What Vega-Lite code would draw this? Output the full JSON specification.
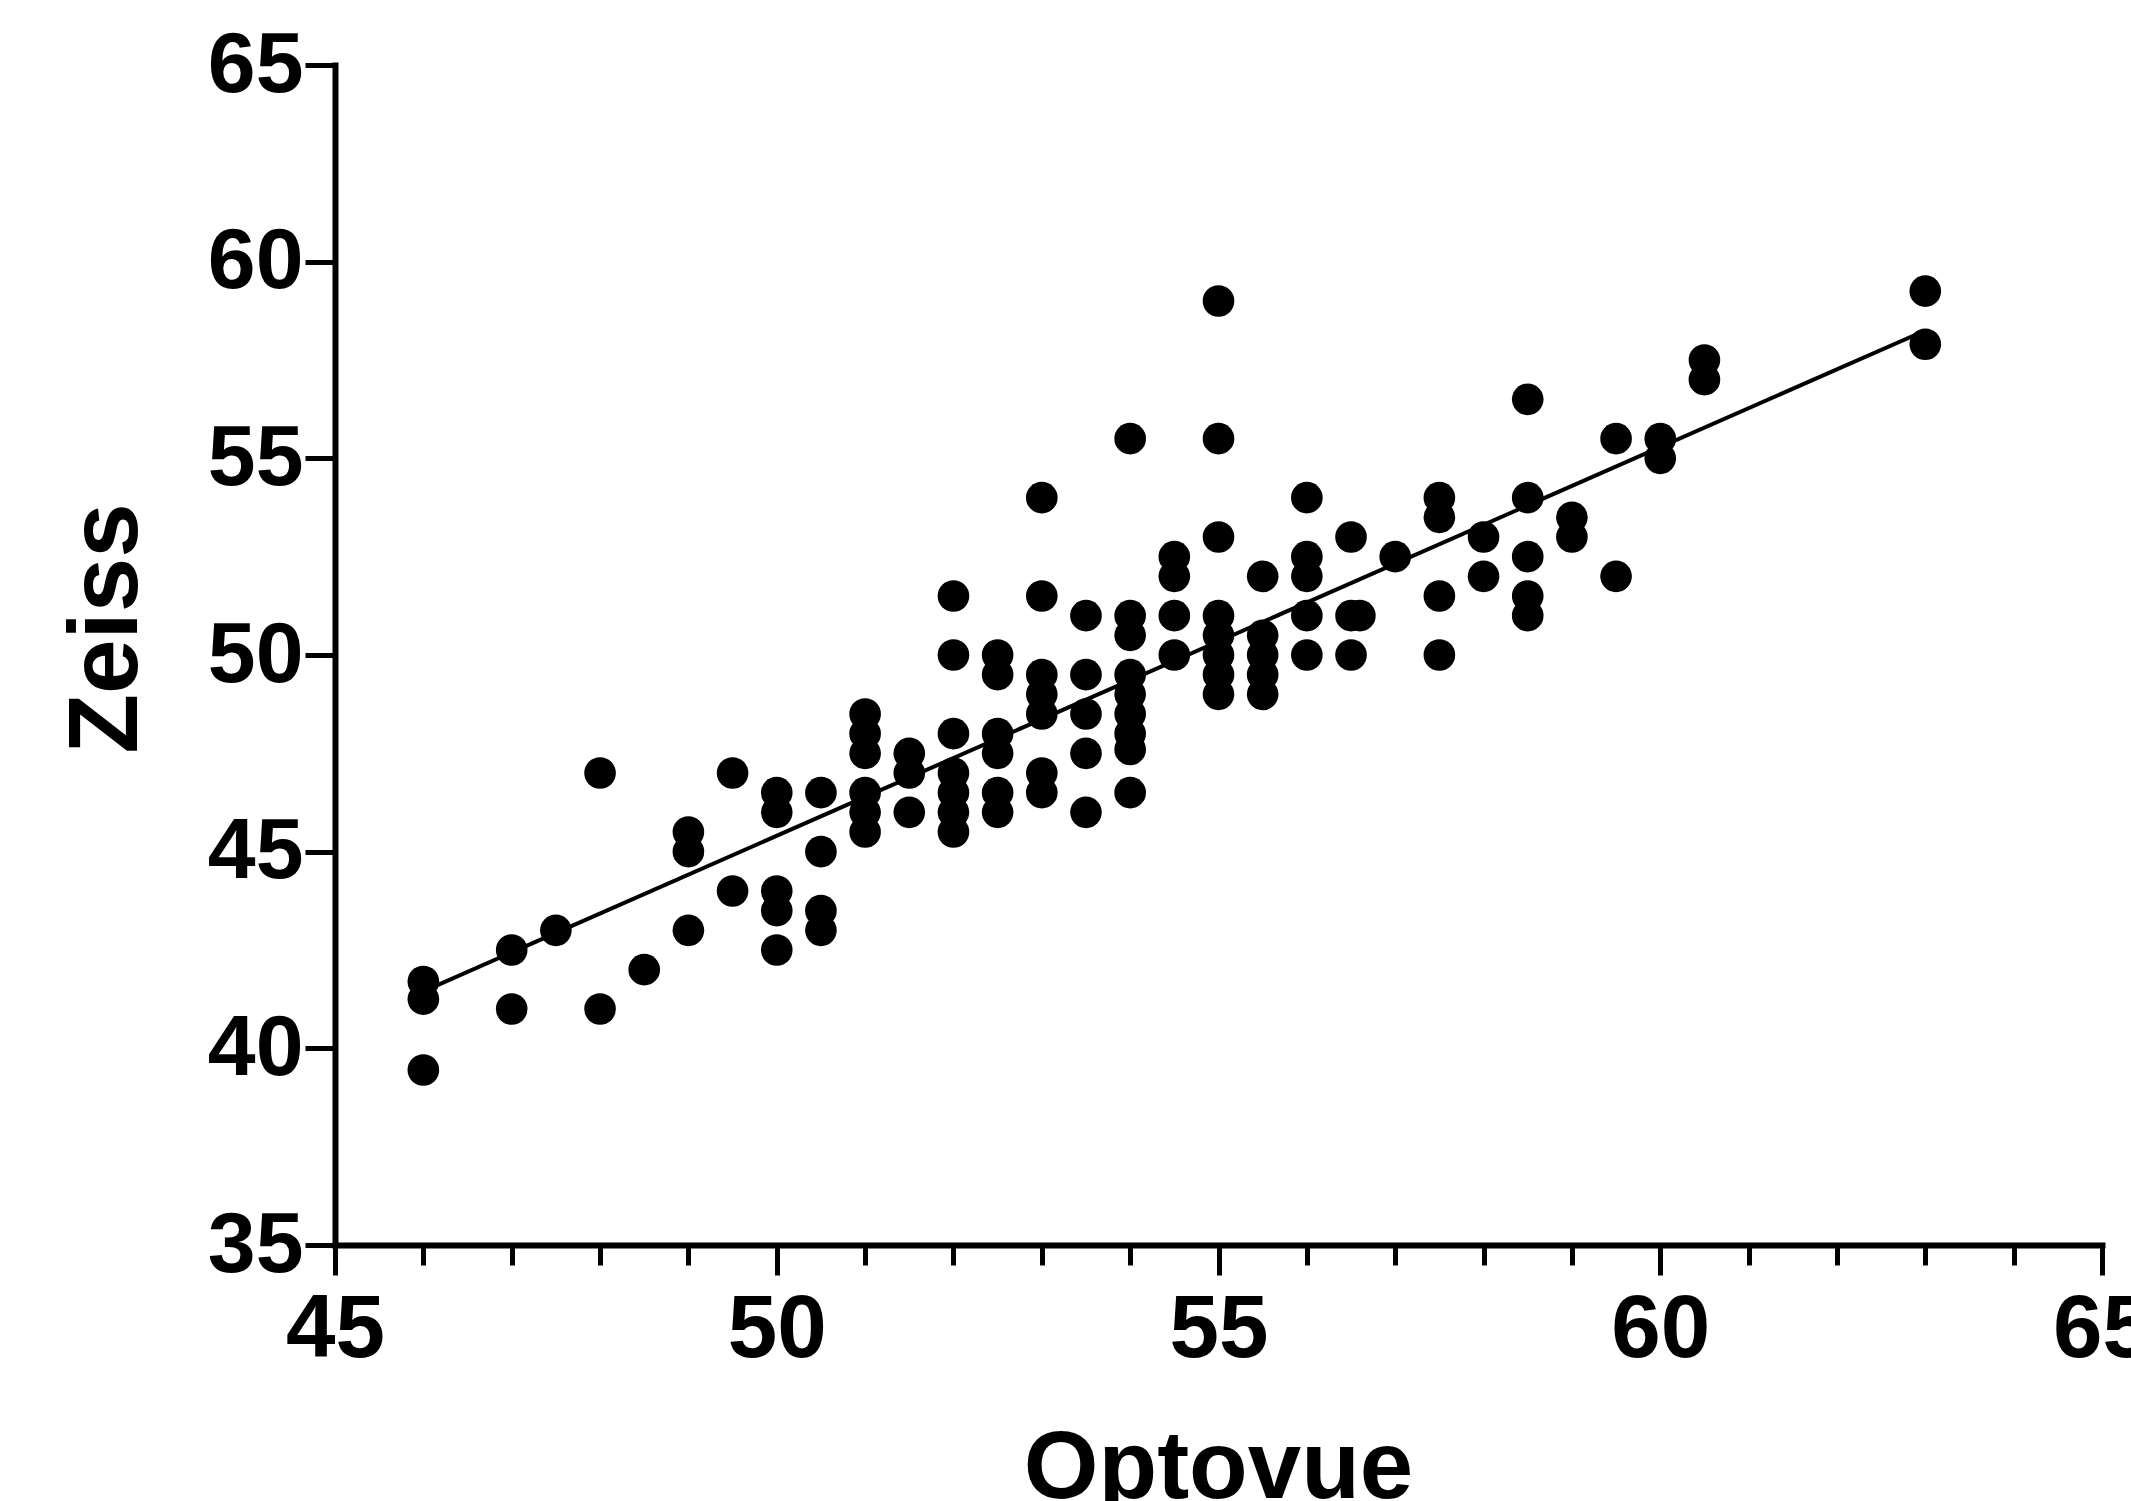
{
  "$schema": "https://vega.github.io/schema/vega-lite/v6.json",
  "width": 1767,
  "height": 1180,
  "autosize": "none",
  "padding": {"left": 335, "top": 65, "right": 29, "bottom": 256},
  "background": "white",
  "config": {"view": {"stroke": null}, "font": "Liberation Sans"},
  "layer": [
    {
      "data": {"values": [
        {"Optovue": 46, "Zeiss": 41.7}, {"Optovue": 46, "Zeiss": 41.25}, {"Optovue": 46, "Zeiss": 39.45},
        {"Optovue": 47, "Zeiss": 42.5}, {"Optovue": 47, "Zeiss": 41},
        {"Optovue": 47.5, "Zeiss": 43},
        {"Optovue": 48, "Zeiss": 47}, {"Optovue": 48, "Zeiss": 41},
        {"Optovue": 48.5, "Zeiss": 42},
        {"Optovue": 49, "Zeiss": 45.5}, {"Optovue": 49, "Zeiss": 45}, {"Optovue": 49, "Zeiss": 43},
        {"Optovue": 49.5, "Zeiss": 47}, {"Optovue": 49.5, "Zeiss": 44},
        {"Optovue": 50, "Zeiss": 46.5}, {"Optovue": 50, "Zeiss": 46}, {"Optovue": 50, "Zeiss": 44}, {"Optovue": 50, "Zeiss": 43.5}, {"Optovue": 50, "Zeiss": 42.5},
        {"Optovue": 50.5, "Zeiss": 46.5}, {"Optovue": 50.5, "Zeiss": 45}, {"Optovue": 50.5, "Zeiss": 43.5}, {"Optovue": 50.5, "Zeiss": 43},
        {"Optovue": 51, "Zeiss": 48.5}, {"Optovue": 51, "Zeiss": 48}, {"Optovue": 51, "Zeiss": 47.5}, {"Optovue": 51, "Zeiss": 46.5}, {"Optovue": 51, "Zeiss": 46}, {"Optovue": 51, "Zeiss": 45.5},
        {"Optovue": 51.5, "Zeiss": 47.5}, {"Optovue": 51.5, "Zeiss": 47}, {"Optovue": 51.5, "Zeiss": 46},
        {"Optovue": 52, "Zeiss": 51.5}, {"Optovue": 52, "Zeiss": 50}, {"Optovue": 52, "Zeiss": 48}, {"Optovue": 52, "Zeiss": 47}, {"Optovue": 52, "Zeiss": 46.5}, {"Optovue": 52, "Zeiss": 46}, {"Optovue": 52, "Zeiss": 45.5},
        {"Optovue": 52.5, "Zeiss": 50}, {"Optovue": 52.5, "Zeiss": 49.5}, {"Optovue": 52.5, "Zeiss": 48}, {"Optovue": 52.5, "Zeiss": 47.5}, {"Optovue": 52.5, "Zeiss": 46.5}, {"Optovue": 52.5, "Zeiss": 46},
        {"Optovue": 53, "Zeiss": 54}, {"Optovue": 53, "Zeiss": 51.5}, {"Optovue": 53, "Zeiss": 49.5}, {"Optovue": 53, "Zeiss": 49}, {"Optovue": 53, "Zeiss": 48.5}, {"Optovue": 53, "Zeiss": 47}, {"Optovue": 53, "Zeiss": 46.5},
        {"Optovue": 53.5, "Zeiss": 51}, {"Optovue": 53.5, "Zeiss": 49.5}, {"Optovue": 53.5, "Zeiss": 48.5}, {"Optovue": 53.5, "Zeiss": 47.5}, {"Optovue": 53.5, "Zeiss": 46},
        {"Optovue": 54, "Zeiss": 55.5}, {"Optovue": 54, "Zeiss": 51}, {"Optovue": 54, "Zeiss": 50.5}, {"Optovue": 54, "Zeiss": 49.5}, {"Optovue": 54, "Zeiss": 49}, {"Optovue": 54, "Zeiss": 48.5}, {"Optovue": 54, "Zeiss": 48}, {"Optovue": 54, "Zeiss": 47.6}, {"Optovue": 54, "Zeiss": 46.5},
        {"Optovue": 54.5, "Zeiss": 52.5}, {"Optovue": 54.5, "Zeiss": 52}, {"Optovue": 54.5, "Zeiss": 51}, {"Optovue": 54.5, "Zeiss": 50},
        {"Optovue": 55, "Zeiss": 59}, {"Optovue": 55, "Zeiss": 55.5}, {"Optovue": 55, "Zeiss": 53}, {"Optovue": 55, "Zeiss": 51}, {"Optovue": 55, "Zeiss": 50.5}, {"Optovue": 55, "Zeiss": 50}, {"Optovue": 55, "Zeiss": 49.5}, {"Optovue": 55, "Zeiss": 49},
        {"Optovue": 55.5, "Zeiss": 52}, {"Optovue": 55.5, "Zeiss": 50.5}, {"Optovue": 55.5, "Zeiss": 50}, {"Optovue": 55.5, "Zeiss": 49.5}, {"Optovue": 55.5, "Zeiss": 49},
        {"Optovue": 56, "Zeiss": 54}, {"Optovue": 56, "Zeiss": 52.5}, {"Optovue": 56, "Zeiss": 52}, {"Optovue": 56, "Zeiss": 51}, {"Optovue": 56, "Zeiss": 50},
        {"Optovue": 56.5, "Zeiss": 53}, {"Optovue": 56.5, "Zeiss": 51}, {"Optovue": 56.5, "Zeiss": 50},
        {"Optovue": 56.6, "Zeiss": 51},
        {"Optovue": 57, "Zeiss": 52.5},
        {"Optovue": 57.5, "Zeiss": 54}, {"Optovue": 57.5, "Zeiss": 53.5}, {"Optovue": 57.5, "Zeiss": 51.5}, {"Optovue": 57.5, "Zeiss": 50},
        {"Optovue": 58, "Zeiss": 53}, {"Optovue": 58, "Zeiss": 52},
        {"Optovue": 58.5, "Zeiss": 56.5}, {"Optovue": 58.5, "Zeiss": 54}, {"Optovue": 58.5, "Zeiss": 52.5}, {"Optovue": 58.5, "Zeiss": 51.5}, {"Optovue": 58.5, "Zeiss": 51},
        {"Optovue": 59, "Zeiss": 53.5}, {"Optovue": 59, "Zeiss": 53},
        {"Optovue": 59.5, "Zeiss": 55.5}, {"Optovue": 59.5, "Zeiss": 52},
        {"Optovue": 60, "Zeiss": 55.5}, {"Optovue": 60, "Zeiss": 55},
        {"Optovue": 60.5, "Zeiss": 57.5}, {"Optovue": 60.5, "Zeiss": 57},
        {"Optovue": 63, "Zeiss": 59.25}, {"Optovue": 63, "Zeiss": 57.9}
      ]},
      "mark": {"type": "circle", "size": 1000, "color": "black", "opacity": 1},
      "encoding": {
        "x": {
          "field": "Optovue", "type": "quantitative",
          "scale": {"domain": [45, 65], "nice": false, "zero": false},
          "axis": {
            "title": "Optovue",
            "values": [45, 46, 47, 48, 49, 50, 51, 52, 53, 54, 55, 56, 57, 58, 59, 60, 61, 62, 63, 64, 65],
            "format": "d",
            "labelExpr": "datum.value % 5 === 0 ? datum.label : ''",
            "labelOverlap": false,
            "labelFlush": false,
            "labelBound": false,
            "tickSize": {"condition": {"test": "datum.value % 5 === 0", "value": 30}, "value": 20},
            "tickWidth": 5,
            "tickColor": "black",
            "domainWidth": 6,
            "domainColor": "black",
            "domainCap": "square",
            "labelFontSize": 89,
            "labelFontWeight": "bold",
            "labelColor": "black",
            "labelPadding": 11,
            "titleFontSize": 96,
            "titleFontWeight": "bold",
            "titleColor": "black",
            "titleBaseline": "alphabetic",
            "titleX": 883,
            "titleY": 252,
            "grid": false
          }
        },
        "y": {
          "field": "Zeiss", "type": "quantitative",
          "scale": {"domain": [35, 65], "nice": false, "zero": false},
          "axis": {
            "title": "Zeiss",
            "values": [35, 40, 45, 50, 55, 60, 65],
            "format": "d",
            "tickSize": 30,
            "tickWidth": 5,
            "tickColor": "black",
            "domainWidth": 6,
            "domainColor": "black",
            "domainCap": "square",
            "labelFontSize": 86,
            "labelFontWeight": "bold",
            "labelColor": "black",
            "labelPadding": 2,
            "labelFlush": false,
            "labelBound": false,
            "titleFontSize": 98,
            "titleFontWeight": "bold",
            "titleColor": "black",
            "titleAngle": -90,
            "titleAlign": "center",
            "titleBaseline": "alphabetic",
            "titleX": -199,
            "titleY": 563,
            "grid": false
          }
        }
      }
    },
    {
      "data": {"values": [
        {"Optovue": 46, "Zeiss": 41.45},
        {"Optovue": 63, "Zeiss": 58.25}
      ]},
      "mark": {"type": "line", "color": "black", "strokeWidth": 4},
      "encoding": {
        "x": {"field": "Optovue", "type": "quantitative"},
        "y": {"field": "Zeiss", "type": "quantitative"}
      }
    }
  ]
}
